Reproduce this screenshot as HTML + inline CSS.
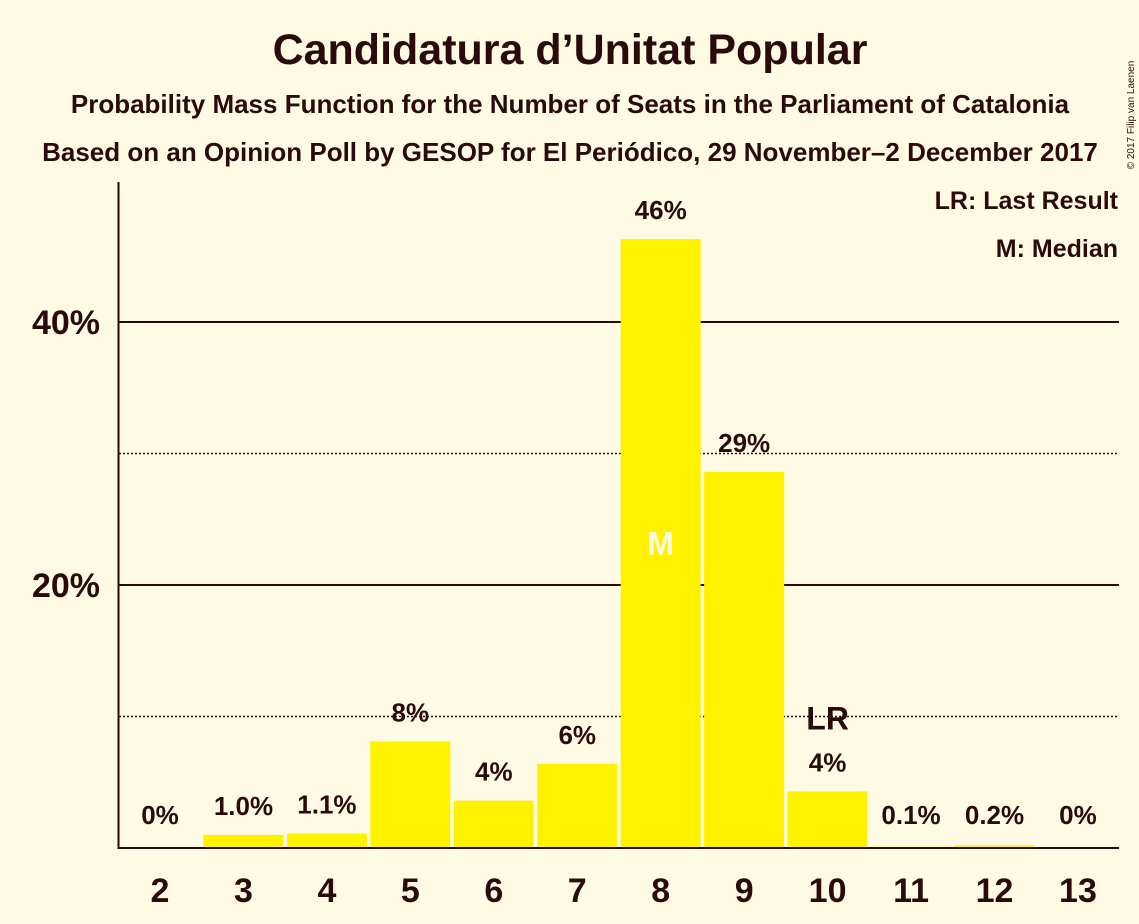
<!DOCTYPE html>
<html><head><meta charset="utf-8"><style>
body{margin:0;background:#FFFAE3;}
svg{display:block;font-family:"Liberation Sans",sans-serif;font-weight:bold;}
</style></head><body>
<svg id="chart" width="1139" height="924" viewBox="0 0 1139 924">
<rect width="1139" height="924" fill="#FFFAE3"/>
<text x="570" y="64" text-anchor="middle" font-size="43" fill="#2A0A0A">Candidatura d’Unitat Popular</text>
<text x="570" y="113" text-anchor="middle" font-size="26" fill="#2A0A0A">Probability Mass Function for the Number of Seats in the Parliament of Catalonia</text>
<text x="570" y="161" text-anchor="middle" font-size="26" fill="#2A0A0A">Based on an Opinion Poll by GESOP for El Periódico, 29 November–2 December 2017</text>
<text x="1134" y="115" font-size="10" font-weight="normal" fill="#2A0A0A" transform="rotate(-90 1134 115)" text-anchor="middle">© 2017 Filip van Laenen</text>
<text x="1118" y="209" text-anchor="end" font-size="25" fill="#2A0A0A">LR: Last Result</text>
<text x="1118" y="257" text-anchor="end" font-size="25" fill="#2A0A0A">M: Median</text>
<g id="grid"></g><g id="bars"></g><g id="labels"></g>
<line x1="118.5" y1="182" x2="118.5" y2="849" stroke="#2A0A0A" stroke-width="2"/>
<line x1="118" y1="848" x2="1119" y2="848" stroke="#2A0A0A" stroke-width="2"/>
</svg>
<script>
const categories=[2,3,4,5,6,7,8,9,10,11,12,13];
const values=[0,1.0,1.1,8.1,3.6,6.4,46.3,28.6,4.3,0.1,0.2,0];
const valueLabels=["0%","1.0%","1.1%","8%","4%","6%","46%","29%","4%","0.1%","0.2%","0%"];
const yTicks=[20,40];
const yTickLabels=["20%","40%"];
const yMinor=[10,30];
const medianSeat=8;
const lastResultSeat=10;
const NS="http://www.w3.org/2000/svg";
const y0=848,pxPer=263/20,x0=160,step=83.45,bw=80;
const y=v=>y0-v*pxPer;
const x=c=>x0+(c-2)*step;
function mk(t,a,p){const e=document.createElementNS(NS,t);for(const k in a)e.setAttribute(k,a[k]);p.appendChild(e);return e;}
const g=document.getElementById('grid'),b=document.getElementById('bars'),l=document.getElementById('labels');
yMinor.forEach(v=>{const e=mk('line',{x1:119,x2:1119,y1:y(v),y2:y(v),stroke:'#2A0A0A','stroke-width':1.5,'stroke-dasharray':'2,2'},g);

});
yTicks.forEach((v,i)=>{const e=mk('line',{x1:119,x2:1119,y1:y(v),y2:y(v),stroke:'#2A0A0A','stroke-width':2},g);


const t=mk('text',{x:100,y:y(v)+12,'text-anchor':'end','font-size':34,fill:'#2A0A0A'},g);t.textContent=yTickLabels[i];

});
categories.forEach((c,i)=>{
 const v=values[i];
 if(v>0){const r=mk('rect',{x:x(c)-bw/2,y:y(v),width:bw,height:y0-y(v),fill:'#FFF200'},b);
 
 }
 const t=mk('text',{x:x(c),y:Math.min(y(v),y0-4)-20,'text-anchor':'middle','font-size':26,fill:'#2A0A0A'},l);t.textContent=valueLabels[i];
 
 
 const xt=mk('text',{x:x(c),y:902,'text-anchor':'middle','font-size':34,fill:'#2A0A0A'},l);xt.textContent=c;
 
 
 if(c===medianSeat){const m=mk('text',{x:x(c),y:(y(v)+y0)/2+11,'text-anchor':'middle','font-size':32,fill:'#FFFAE3'},l);m.textContent='M';
 
 }
 if(c===lastResultSeat){const m=mk('text',{x:x(c),y:Math.min(y(v),y0-4)-62,'text-anchor':'middle','font-size':32,fill:'#2A0A0A'},l);m.textContent='LR';
 
 }
});
</script>
</body></html>
